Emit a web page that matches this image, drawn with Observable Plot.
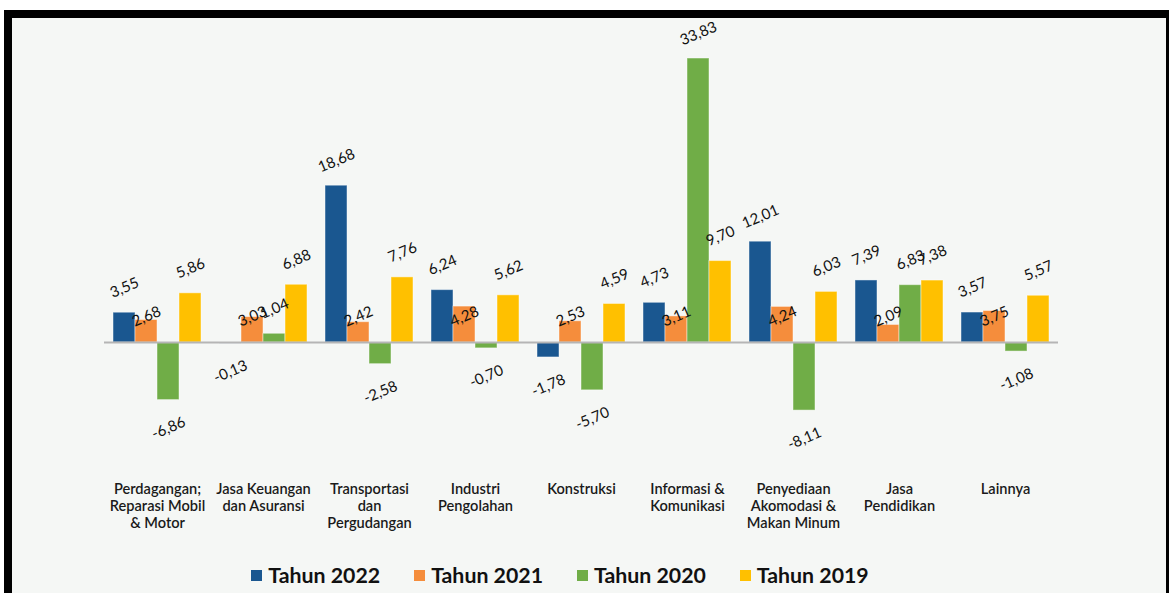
<!DOCTYPE html>
<html>
<head>
<meta charset="utf-8">
<script src="https://cdn.jsdelivr.net/npm/d3@7"></script>
<script src="https://cdn.jsdelivr.net/npm/@observablehq/plot@0.6"></script>
<style>
  html, body { margin: 0; padding: 0; background: #ffffff; }
  body { width: 1169px; height: 593px; overflow: hidden; position: relative; font-family: Lato, "Open Sans", sans-serif; }
  #frame { position: absolute; left: 4px; top: 10px; width: 1165px; height: 583px; background: #000; }
  #panel { position: absolute; left: 12px; top: 18px; width: 1154px; height: 575px; background: #f5f7f5; }
  #chart { position: absolute; left: 0; top: 0; }
  #legend { position: absolute; left: 0; top: 544px; width: 1096px; display: flex; justify-content: center; align-items: center; height: 26px; }
  .item { display: flex; align-items: center; margin: 0 17px; font-weight: 700; font-size: 21.3px; color: #111; }
  .sw { width: 11px; height: 11px; margin-right: 6px; display: inline-block; }
</style>
</head>
<body>
<div id="frame"></div>
<div id="panel">
  <div id="chart"></div>
  <div id="legend"></div>
</div>
<script>
const categories = ["Perdagangan", "Jasa Keuangan", "Transportasi", "Industri", "Konstruksi", "Informasi", "Penyediaan", "Jasa Pendidikan", "Lainnya"];
const tickLabels = [
  "Perdagangan;\nReparasi Mobil\n& Motor",
  "Jasa Keuangan\ndan Asuransi",
  "Transportasi\ndan\nPergudangan",
  "Industri\nPengolahan",
  "Konstruksi",
  "Informasi &\nKomunikasi",
  "Penyediaan\nAkomodasi &\nMakan Minum",
  "Jasa\nPendidikan",
  "Lainnya"
];
const seriesNames = ["Tahun 2022", "Tahun 2021", "Tahun 2020", "Tahun 2019"];
const seriesColors = ["#1a5790", "#f58d3c", "#70ad47", "#ffc000"];
const y2022 = [3.55, -0.13, 18.68, 6.24, -1.78, 4.73, 12.01, 7.39, 3.57];
const y2021 = [2.68, 3.03, 2.42, 4.28, 2.53, 3.11, 4.24, 2.09, 3.75];
const y2020 = [-6.86, 1.04, -2.58, -0.70, -5.70, 33.83, -8.11, 6.83, -1.08];
const y2019 = [5.86, 6.88, 7.76, 5.62, 4.59, 9.70, 6.03, 7.38, 5.57];

const seriesValues = [y2022, y2021, y2020, y2019];
const fmt = v => v.toFixed(2).replace(".", ",");
const barW = 22;

const marks = [];
seriesValues.forEach((vals, i) => {
  const data = categories.map((c, j) => ({category: c, value: vals[j]}));
  marks.push(Plot.barY(data, {
    x: "category", y: "value",
    fill: seriesColors[i],
    stroke: "#ffffff", strokeOpacity: 0.45, strokeWidth: 1,
    insetLeft: barW * i, insetRight: barW * (3 - i)
  }));
});
marks.push(Plot.ruleY([0], {stroke: "#b5b5b5", strokeWidth: 2}));
seriesValues.forEach((vals, i) => {
  const data = categories.map((c, j) => ({category: c, value: vals[j]}));
  const dx = (i - 1.5) * barW;
  const common = {x: "category", text: d => fmt(d.value), dx, rotate: -23, fontSize: 15, fill: "#111", textAnchor: "middle"};
  if (i === 1) {
    marks.push(Plot.text(data, {...common, y: () => 0, dy: -26}));
  } else {
    marks.push(Plot.text(data.filter(d => d.value >= 0), {...common, y: "value", dy: -25}));
    marks.push(Plot.text(data.filter(d => d.value < 0), {...common, y: "value", dy: 28}));
  }
});
marks.push(Plot.text(categories.map((c, j) => ({category: c, label: tickLabels[j]})), {
  x: "category", text: "label", frameAnchor: "bottom", lineAnchor: "top", dy: 55,
  fontSize: 14.6, fontWeight: 600, lineHeight: 1.17, fill: "#1a1a1a", textAnchor: "middle"
}));

const chart = Plot.plot({
  width: 1154,
  height: 530,
  marginLeft: 92,
  marginRight: 108,
  marginTop: 21.8,
  marginBottom: 122.05,
  style: {background: "transparent", fontFamily: "Lato, sans-serif", overflow: "visible"},
  x: {domain: categories, paddingInner: 0.1698, paddingOuter: 0.085, round: false, axis: null},
  y: {domain: [-10, 36], axis: null},
  marks
});
document.getElementById("chart").appendChild(chart);

const legend = document.getElementById("legend");
seriesNames.forEach((name, i) => {
  const item = document.createElement("div");
  item.className = "item";
  const sw = document.createElement("span");
  sw.className = "sw";
  sw.style.background = seriesColors[i];
  item.appendChild(sw);
  item.appendChild(document.createTextNode(name));
  legend.appendChild(item);
});
</script>
</body>
</html>
